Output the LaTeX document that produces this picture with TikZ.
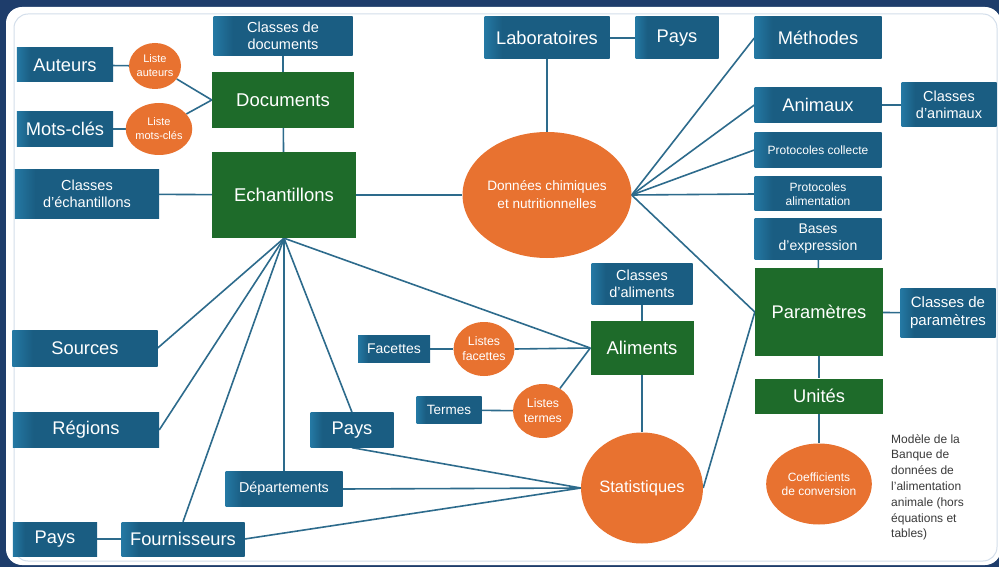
\documentclass[tikz,border=0pt]{standalone}
\usepackage{fontspec}
\setmainfont{Liberation Sans}
\usetikzlibrary{shapes.geometric}
\definecolor{navy}{HTML}{1E3D6B}
\definecolor{blued}{HTML}{1A5D82}
\definecolor{bluel}{HTML}{2478A3}
\definecolor{greenc}{HTML}{1E6B2A}
\definecolor{orangec}{HTML}{E87230}
\definecolor{linec}{HTML}{2D6B8C}
\definecolor{panelline}{HTML}{D3DEEB}
\definecolor{notec}{HTML}{3A3A3A}
\pgfdeclarehorizontalshading{boxshade}{100bp}{color(0bp)=(bluel); color(25bp)=(bluel); color(32bp)=(blued); color(100bp)=(blued)}
\pgfdeclarelayer{bg}\pgfdeclarelayer{lk}\pgfsetlayers{bg,lk,main}
\newcommand\fz[2]{\fontsize{#1bp}{#2bp}\selectfont}
\tikzset{
  bbox/.style={rectangle, shading=boxshade, text=white, inner sep=0pt, align=center},
  gbox/.style={rectangle, fill=greenc, text=white, inner sep=0pt, align=center},
  obub/.style={ellipse, fill=orangec, text=white, inner sep=0pt, align=center},
  link/.style={draw=linec, line width=1.6bp},
  sz/.style 2 args={minimum width=#1bp, minimum height=#2bp},
  big/.style={font=\fz{18.3}{22}},
}
\begin{document}
\begin{tikzpicture}[x=1bp,y=-1bp]
\useasboundingbox (0,0) rectangle (999,567);
\begin{pgfonlayer}{bg}
  \fill[navy] (0,0) rectangle (999,567);
  \fill[white, rounded corners=16bp] (6,7) rectangle (1001,565);
  \draw[panelline, line width=1bp, rounded corners=14bp] (14,14) rectangle (997,561);
\end{pgfonlayer}

% left part
\node[bbox, sz={139}{39}, font=\fz{14.5}{17}] (cdoc) at (283,36) {Classes de\\documents};
\node[bbox, sz={96}{34}, big] (aut) at (65,65) {Auteurs};
\node[obub, sz={52}{46}, font=\fz{11}{14}] (la) at (155,66) {Liste\\auteurs};
\node[gbox, sz={142}{56}, font=\fz{18.5}{22}] (doc) at (283,100) {Documents};
\node[bbox, sz={96}{35}, big] (mc) at (65,129) {Mots-clés};
\node[obub, sz={56}{52}, font=\fz{11}{14}] (lmc) at (159,129) {Liste\\mots-clés};
\node[bbox, sz={144}{49}, font=\fz{14.5}{17.5}] (cech) at (87,194) {Classes\\d’échantillons};
\node[gbox, sz={144}{86}, font=\fz{18.5}{22}] (ech) at (284,195) {Echantillons};
\node[bbox, sz={145}{36}, big] (src) at (85,348) {Sources};
\node[bbox, sz={146}{35}, big] (reg) at (86,430) {Régions};
\node[bbox, sz={84}{34}, big] (paysB) at (55,539) {Pays};
\node[bbox, sz={123}{34}, big] (four) at (183,539) {Fournisseurs};
\node[bbox, sz={117}{35}, font=\fz{14.3}{17}] (dep) at (284,489) {Départements};
\node[bbox, sz={83}{35}, big] (paysM) at (352,430) {Pays};

% centre
\node[bbox, sz={125}{42}, big] (lab) at (547,38) {Laboratoires};
\node[bbox, sz={83}{42}, big] (paysT) at (677,38) {Pays};
\node[obub, sz={139}{126}, font=\fz{13.6}{18}] (don) at (547,195) {Données chimiques\\et nutritionnelles};
\node[bbox, sz={101}{40}, font=\fz{14.5}{17}] (cali) at (642,284) {Classes\\d’aliments};
\node[gbox, sz={103}{54}, font=\fz{18.5}{22}] (ali) at (642,348) {Aliments};
\node[bbox, sz={72}{27}, font=\fz{14}{17}] (fac) at (394,349) {Facettes};
\node[obub, sz={59}{54}, font=\fz{12.3}{15}] (lf) at (484,349) {Listes\\facettes};
\node[bbox, sz={65}{27}, font=\fz{13.5}{16}] (ter) at (449,410) {Termes};
\node[obub, sz={60}{54}, font=\fz{12.3}{15}] (lt) at (543,411) {Listes\\termes};
\node[obub, sz={122}{111}, font=\fz{16.5}{20}] (stat) at (642,488) {Statistiques};

% right part
\node[bbox, sz={127}{42}, big] (meth) at (818,38) {Méthodes};
\node[bbox, sz={127}{35}, big] (anim) at (818,105) {Animaux};
\node[bbox, sz={95}{44}, font=\fz{14.5}{17}] (cani) at (949,105) {Classes\\d’animaux};
\node[bbox, sz={127}{35}, font=\fz{12}{14.5}] (pcol) at (818,150) {Protocoles collecte};
\node[bbox, sz={127}{34}, font=\fz{12}{14.5}] (pali) at (818,194) {Protocoles\\alimentation};
\node[bbox, sz={127}{40}, font=\fz{14}{17}] (bexp) at (818,239) {Bases\\d’expression};
\node[gbox, sz={128}{87}, big] (par) at (819,312) {Paramètres};
\node[bbox, sz={95}{49}, font=\fz{15}{18}] (cpar) at (948,313) {Classes de\\paramètres};
\node[gbox, sz={128}{35}, big] (uni) at (819,396) {Unités};
\node[obub, sz={89}{81}, font=\fz{12}{14.5}] (coef) at (819,484) {Coefficients\\de conversion};
\node[anchor=north west, align=left, text=notec, inner sep=0pt, font=\fz{12}{15.8}] (note) at (891,434)
  {Modèle de la\\Banque de\\données de\\l’alimentation\\animale (hors\\équations et\\tables)};

\begin{pgfonlayer}{lk}
  \draw[link] (aut) -- (la);
  \draw[link] (mc) -- (lmc);
  \draw[link] (la) -- (doc.west);
  \draw[link] (lmc) -- (doc.west);
  \draw[link] (cdoc) -- (doc);
  \draw[link] (doc) -- (ech);
  \draw[link] (cech) -- (ech);
  \draw[link] (ech.east) -- (don.west);
  \draw[link] (src.east) -- (ech.south);
  \draw[link] (reg.east) -- (ech.south);
  \draw[link] (four.north) -- (ech.south);
  \draw[link] (dep.north) -- (ech.south);
  \draw[link] (paysM.north) -- (ech.south);
  \draw[link] (ali.west) -- (ech.south);
  \draw[link] (paysB) -- (four);
  \draw[link] (four.east) -- (stat.west);
  \draw[link] (dep.east) -- (stat.west);
  \draw[link] (paysM.south) -- (stat.west);
  \draw[link] (lab) -- (paysT);
  \draw[link] (lab) -- (don);
  \draw[link] (fac) -- (lf);
  \draw[link] (lf.east) -- (ali.west);
  \draw[link] (ter) -- (lt);
  \draw[link] (lt) -- (ali.west);
  \draw[link] (cali) -- (ali);
  \draw[link] (ali) -- (stat);
  \draw[link] (stat.east) -- (par.west);
  \draw[link] (don.east) -- (meth.west);
  \draw[link] (don.east) -- (anim.west);
  \draw[link] (don.east) -- (pcol.west);
  \draw[link] (don.east) -- (pali.west);
  \draw[link] (don.east) -- (par.west);
  \draw[link] (anim) -- (cani);
  \draw[link] (bexp) -- (par);
  \draw[link] (par) -- (cpar);
  \draw[link] (par) -- (uni);
  \draw[link] (uni) -- (coef);
\end{pgfonlayer}
\end{tikzpicture}
\end{document}
